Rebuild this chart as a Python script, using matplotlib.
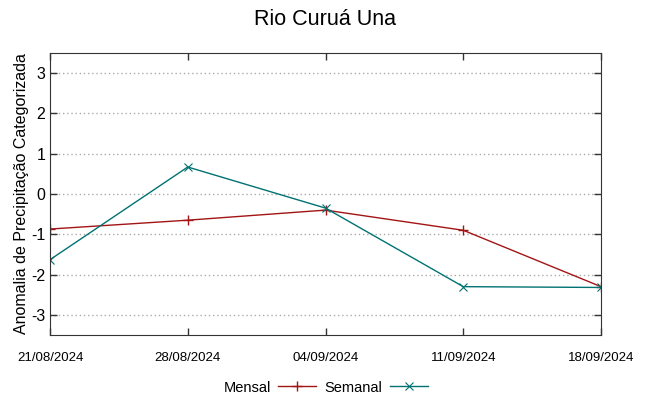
import matplotlib
matplotlib.use("Agg")
import matplotlib.pyplot as plt

plt.rcParams['font.family'] = ['Liberation Sans', 'DejaVu Sans']

datas = ["21/08/2024", "28/08/2024", "04/09/2024", "11/09/2024", "18/09/2024"]
mensal = [-0.87, -0.65, -0.40, -0.90, -2.30]
semanal = [-1.63, 0.67, -0.35, -2.30, -2.32]
yticks = [-3, -2, -1, 0, 1, 2, 3]

fig = plt.figure(figsize=(6.49, 3.96), dpi=100)
ax = fig.add_axes([50/649, 1 - 335/396, 551/649, 282/396])

x = range(len(datas))
ax.plot(x, mensal, color="#a31515", lw=1, marker="+", ms=7, mew=1, label="Mensal")
ax.plot(x, semanal, color="#007272", lw=1, marker="x", ms=6, mew=0.8, label="Semanal")

ax.set_xlim(0, len(datas) - 1)
ax.set_ylim(-3.5, 3.5)
ax.set_xticks(list(x))
ax.set_xticklabels(datas, fontsize=9.5)
ax.set_yticks(yticks)
ax.set_yticklabels([str(v) for v in yticks], fontsize=11.5)
ax.tick_params(direction="in", top=True, right=True, length=5, width=1, color="#333333")
ax.tick_params(axis="x", pad=12)
ax.grid(axis="y", linestyle=(0, (1, 2)), color="#aaaaaa", lw=1)
for s in ax.spines.values():
    s.set_color("#333333")

ax.set_ylabel("Anomalia de Precipitação Categorizada", fontsize=11.5, labelpad=1)
ax.set_title("Rio Curuá Una", fontsize=15.5, pad=20)

ax.legend(loc="upper center", bbox_to_anchor=(0.5, -0.115), ncol=2, frameon=False,
          markerfirst=False, fontsize=10.5, handlelength=2.6, handletextpad=0.5,
          columnspacing=0.6)

fig.savefig("out.png", dpi=100)
